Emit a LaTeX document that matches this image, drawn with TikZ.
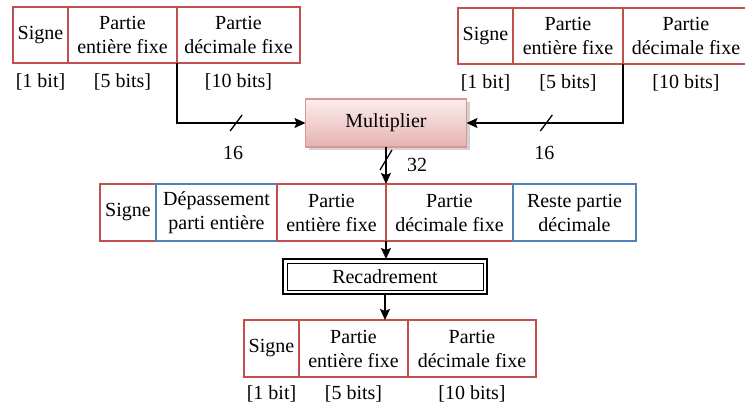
\documentclass[tikz,border=0pt]{standalone}
\usepackage{fontspec}
\setmainfont{Liberation Serif}
\usepackage{tikz}
\usetikzlibrary{positioning,arrows.meta,calc,shadows}
\definecolor{cellred}{RGB}{192,80,77}
\definecolor{cellblue}{RGB}{79,129,189}
\definecolor{multtop}{RGB}{252,238,238}
\definecolor{multbot}{RGB}{229,178,177}
\definecolor{multline}{RGB}{218,150,148}

\begin{document}
\begin{tikzpicture}[
  x=1pt, y=-1pt,
  font=\fontsize{20}{24}\selectfont,
  cell/.style={draw, line width=2pt, align=center, inner sep=1pt, outer sep=0pt,
               minimum height=56pt},
  redcell/.style={cell, draw=cellred},
  bluecell/.style={cell, draw=cellblue},
  bitlbl/.style={inner sep=0pt},
  multbox/.style={draw=multline, line width=1.5pt, top color=multtop, bottom color=multbot,
                  minimum width=161pt, minimum height=48pt, outer sep=0pt,
                  drop shadow={shadow xshift=3pt, shadow yshift=-3pt, fill=black!35}},
  recadbox/.style={draw, line width=2.5pt, minimum width=204pt, minimum height=35pt,
                   outer sep=0pt},
  innerframe/.style={line width=1pt},
  wire/.style={-{Stealth[length=11pt,width=10pt,inset=2pt]}, line width=1.5pt},
  tick/.style={line width=1.3pt},
]
\useasboundingbox (0,0) rectangle (745,407);

% input operand A
\node[redcell, minimum width=55pt, anchor=west] (a1) at (13,35) {Signe};
\node[redcell, minimum width=109pt, right=0pt of a1] (a2) {Partie\\entière fixe};
\node[redcell, minimum width=123pt, right=0pt of a2] (a3) {Partie\\décimale fixe};
\node[bitlbl, below=10pt of a1] (a1b) {[1 bit]};
\node[bitlbl, below=10pt of a2] (a2b) {[5 bits]};
\node[bitlbl, below=10pt of a3] (a3b) {[10 bits]};

% input operand B
\node[redcell, minimum width=55pt, anchor=west] (b1) at (458,36) {Signe};
\node[redcell, minimum width=110pt, right=0pt of b1] (b2) {Partie\\entière fixe};
\node[redcell, minimum width=126pt, right=0pt of b2] (b3) {Partie\\décimale fixe};
\node[bitlbl, below=10pt of b1] (b1b) {[1 bit]};
\node[bitlbl, below=10pt of b2] (b2b) {[5 bits]};
\node[bitlbl, below=10pt of b3] (b3b) {[10 bits]};

\node[multbox] (mult) at (386,123) {Multiplier};

% product
\node[redcell, minimum width=56pt, minimum height=57pt, anchor=west] (p1) at (100,212.5) {Signe};
\node[bluecell, minimum width=121pt, minimum height=57pt, right=0pt of p1] (p2) {Dépassement\\parti entière};
\node[redcell, minimum width=109pt, minimum height=57pt, right=0pt of p2] (p3) {Partie\\entière fixe};
\node[redcell, minimum width=127pt, minimum height=57pt, right=0pt of p3] (p4) {Partie\\décimale fixe};
\node[bluecell, minimum width=123pt, minimum height=57pt, right=0pt of p4] (p5) {Reste partie\\décimale};

\node[recadbox] (recad) at (385,276.5) {Recadrement};
\draw[innerframe] ($(recad.north west)+(4pt,-4pt)$) rectangle ($(recad.south east)+(-4pt,4pt)$);

% result
\node[redcell, minimum width=55pt, minimum height=57pt, anchor=west] (r1) at (244,348.5) {Signe};
\node[redcell, minimum width=109pt, minimum height=57pt, right=0pt of r1] (r2) {Partie\\entière fixe};
\node[redcell, minimum width=128pt, minimum height=57pt, right=0pt of r2] (r3) {Partie\\décimale fixe};
\node[bitlbl, below=8pt of r1] (r1b) {[1 bit]};
\node[bitlbl, below=8pt of r2] (r2b) {[5 bits]};
\node[bitlbl, below=8pt of r3] (r3b) {[10 bits]};

% connections
\draw[wire] (a3.south west) |- coordinate[pos=0.73] (sa) (mult.west);
\draw[wire] (b3.south west) |- coordinate[pos=0.745] (sb) (mult.east);
\draw[wire] (mult.south) -- coordinate[pos=0.35] (sp) (mult.south |- p4.north west);
\draw[wire] (p4.south west) -- (p4.south west |- recad.north);
\draw[wire] (recad.south) -- (recad.south |- r2.north);

% bus widths
\draw[tick] ($(sa)+(-6,8)$) -- ($(sa)+(6,-8)$);
\draw[tick] ($(sb)+(-6,8)$) -- ($(sb)+(6,-8)$);
\draw[tick] ($(sp)+(-6,10)$) -- ($(sp)+(6,-10)$);
\node (na) at ($(sa)+(-3,30)$) {16};
\node (nb) at ($(sb)+(-2,30)$) {16};
\node (np) at ($(sp)+(31,5)$) {32};
\end{tikzpicture}
\end{document}
